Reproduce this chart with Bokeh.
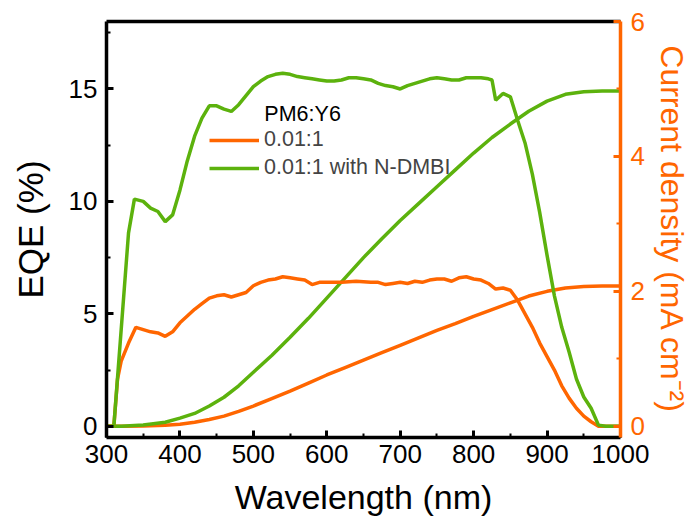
from bokeh.plotting import figure
from bokeh.models import (Range1d, LinearAxis, SingleIntervalTicker, FixedTicker,
                          Legend, LegendItem, Label)
from bokeh.embed import file_html
from bokeh.resources import INLINE

# ---- data ----
wl_eqe_ref = [300, 310, 315, 320, 330, 340, 350, 360, 370, 380, 390, 400, 410, 420, 430,
              440, 450, 460, 470, 480, 490, 500, 510, 520, 530, 540, 550, 560, 570, 580,
              590, 600, 620, 640, 660, 670, 680, 690, 700, 710, 720, 730, 740, 750, 760,
              770, 780, 790, 800, 810, 820, 830, 840, 850, 860, 870, 880, 890, 900, 910,
              920, 930, 940, 950, 960, 970, 980, 990, 1000]
eqe_ref = [0, 0, 2.1, 2.9, 3.7, 4.4, 4.3, 4.2, 4.15, 4.0, 4.2, 4.6, 4.9, 5.2, 5.45,
           5.7, 5.8, 5.85, 5.75, 5.85, 5.95, 6.25, 6.4, 6.5, 6.55, 6.65, 6.6, 6.55, 6.5, 6.3,
           6.4, 6.4, 6.4, 6.45, 6.4, 6.4, 6.3, 6.35, 6.4, 6.35, 6.45, 6.4, 6.5, 6.55, 6.55,
           6.45, 6.6, 6.65, 6.55, 6.5, 6.35, 6.1, 6.15, 6.05, 5.6, 5.0, 4.4, 3.7, 3.1, 2.5,
           1.8, 1.25, 0.8, 0.45, 0.2, 0.0, 0, 0, 0]

wl_eqe_ndmbi = [300, 310, 320, 330, 338, 350, 360, 370, 380, 390, 400, 410, 420, 430, 440,
                450, 460, 470, 480, 490, 500, 510, 520, 530, 540, 550, 560, 570, 580, 590,
                600, 610, 620, 630, 640, 650, 660, 670, 680, 690, 700, 710, 720, 730, 740,
                750, 760, 770, 780, 790, 800, 810, 820, 825, 830, 840, 850, 860, 870, 880,
                890, 900, 910, 920, 930, 940, 950, 960, 970, 980, 990, 1000]
eqe_ndmbi = [0, 0, 4.3, 8.6, 10.1, 10.0, 9.7, 9.55, 9.1, 9.4, 10.5, 11.8, 12.9, 13.7, 14.25,
             14.25, 14.1, 14.0, 14.3, 14.7, 15.1, 15.35, 15.55, 15.65, 15.7, 15.65, 15.55, 15.5, 15.45, 15.4,
             15.35, 15.35, 15.4, 15.5, 15.5, 15.45, 15.4, 15.25, 15.15, 15.1, 15.0, 15.15, 15.25, 15.35, 15.45,
             15.5, 15.45, 15.4, 15.4, 15.5, 15.5, 15.5, 15.45, 15.4, 14.5, 14.8, 14.65, 13.6, 12.6, 11.2,
             9.5, 7.6, 5.8, 4.4, 3.3, 2.1, 1.3, 0.8, 0.05, 0, 0, 0]

wl_j = [300, 320, 350, 380, 400, 420, 440, 460, 480, 500, 525, 550, 575, 600, 625, 650,
        675, 700, 725, 750, 775, 800, 825, 850, 875, 900, 925, 950, 975, 1000]
j_ref = [0, 0, 0.005, 0.015, 0.03, 0.06, 0.1, 0.15, 0.22, 0.3, 0.41, 0.52, 0.64, 0.76, 0.87, 0.98,
         1.09, 1.2, 1.31, 1.42, 1.52, 1.63, 1.73, 1.83, 1.93, 2.0, 2.05, 2.07, 2.08, 2.08]
j_ndmbi = [0, 0, 0.02, 0.06, 0.12, 0.19, 0.3, 0.43, 0.6, 0.8, 1.05, 1.32, 1.6, 1.9, 2.2, 2.5,
           2.78, 3.05, 3.3, 3.55, 3.8, 4.05, 4.28, 4.48, 4.67, 4.82, 4.92, 4.96, 4.97, 4.97]

legend_title = "PM6:Y6"
series_labels = ["0.01:1", "0.01:1 with N-DMBI"]

ORANGE = "#FF6600"
GREEN = "#5CB20D"
FONT = "Liberation Sans"
LW = 3.5

p = figure(width=695, height=526, x_range=Range1d(300, 1000), y_range=Range1d(-0.5, 18),
           output_backend="svg", toolbar_location=None,
           min_border_left=106, min_border_right=75, min_border_top=21, min_border_bottom=89)
p.extra_y_ranges = {"j": Range1d(-0.5 / 3, 6)}
p.grid.visible = False
p.outline_line_color = None
p.background_fill_color = "white"
p.border_fill_color = "white"

def style_axis(ax, color="black"):
    ax.axis_line_width = 3.5
    ax.axis_line_color = color
    ax.major_tick_in = 7
    ax.major_tick_out = 0
    ax.minor_tick_in = 4
    ax.minor_tick_out = 0
    ax.major_tick_line_width = 3
    ax.minor_tick_line_width = 2
    ax.major_tick_line_color = color
    ax.minor_tick_line_color = color
    ax.major_label_text_font = FONT
    ax.major_label_text_font_size = "26px"
    ax.major_label_text_color = color
    ax.axis_label_text_font = FONT
    ax.axis_label_text_font_style = "normal"
    ax.axis_label_text_color = color

xa = p.xaxis[0]
xa.ticker = SingleIntervalTicker(interval=100, num_minor_ticks=2)
style_axis(xa)
xa.axis_label = "Wavelength (nm)"
xa.axis_label_text_font_size = "34px"
xa.major_label_standoff = 7
xa.axis_label_standoff = 12

ya = p.yaxis[0]
ya.ticker = SingleIntervalTicker(interval=5, num_minor_ticks=2)
style_axis(ya)
ya.axis_label = "EQE (%)"
ya.axis_label_text_font_size = "35px"
ya.major_label_standoff = 9
ya.axis_label_standoff = 16

ra = LinearAxis(y_range_name="j", ticker=SingleIntervalTicker(interval=2, num_minor_ticks=2))
style_axis(ra, ORANGE)
ra.axis_label = "Current density (mA cm\u207b\u00b2)"
ra.axis_label_text_font_size = "32px"
ra.major_label_standoff = 10
ra.axis_label_standoff = 6
p.add_layout(ra, "right")

ta = LinearAxis(ticker=FixedTicker(ticks=[]), axis_line_width=3.5, axis_line_color="black",
                major_tick_in=0, major_tick_out=0, minor_tick_in=0, minor_tick_out=0)
p.add_layout(ta, "above")

r_j_ref = p.line(wl_j, j_ref, y_range_name="j", line_color=ORANGE, line_width=LW)
r_j_nd = p.line(wl_j, j_ndmbi, y_range_name="j", line_color=GREEN, line_width=LW)
r_ref = p.line(wl_eqe_ref, eqe_ref, line_color=ORANGE, line_width=LW)
r_nd = p.line(wl_eqe_ndmbi, eqe_ndmbi, line_color=GREEN, line_width=LW)

legend = Legend(items=[LegendItem(label=series_labels[0], renderers=[r_ref]),
                       LegendItem(label=series_labels[1], renderers=[r_nd])],
                location=(103, 257), background_fill_alpha=0, border_line_color=None,
                padding=0, margin=0, glyph_width=50, glyph_height=20, label_height=20,
                label_standoff=5, spacing=3, label_text_font=FONT, label_text_font_size="21.5px")
p.add_layout(legend)

p.add_layout(Label(x=515, y=13.9, text=legend_title, text_baseline="middle",
                   text_font=FONT, text_font_size="21.5px", text_color="black"))

open("out.html", "w").write(file_html(p, INLINE))
